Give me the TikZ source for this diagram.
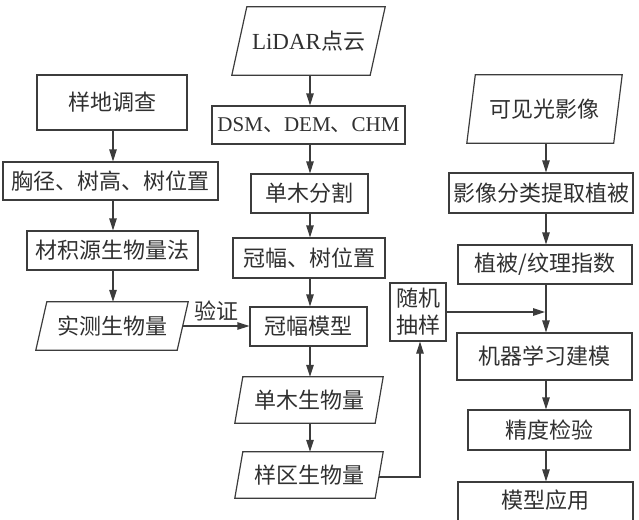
\documentclass[tikz,border=0pt]{standalone}
\usepackage{fontspec}
\setmainfont{Liberation Serif}
\newfontfamily\cjk{Noto Sans CJK SC}
\newfontfamily\lat{Liberation Serif}
\usetikzlibrary{arrows.meta,calc}
\definecolor{lc}{HTML}{3C3C3C}
\definecolor{tc}{HTML}{303030}
\tikzset{
  base/.style={inner sep=0pt, text=tc, font=\fontsize{22}{27}\selectfont\cjk, align=center},
  box/.style={base, draw=lc, line width=1.2pt},
  pnode/.style={base},
  ln/.style={draw=lc, line width=1.2pt, line join=miter},
  arr/.style={ln, -{Triangle[length=12pt,width=7.5pt]}},
}
\newcommand{\pbox}[2]{%
  \draw[ln] ([xshift=#2/2]#1.north west) -- ([xshift=#2/2]#1.north east)
    -- ([xshift=-#2/2]#1.south east) -- ([xshift=-#2/2]#1.south west) -- cycle;}
\begin{document}
\begin{tikzpicture}[x=1pt,y=-1pt]
\useasboundingbox (0,0) rectangle (639,519);
\clip (0,0) rectangle (639,519);
% column coordinates
\coordinate (cl) at (113,0);
\coordinate (cm) at (310,0);
\coordinate (cr) at (546,0);
% left column
\node[box, minimum width=150pt, minimum height=55pt] (n1) at (112,102.5) {样地调查};
\node[box, minimum width=215pt, minimum height=38pt] (n2) at (110.5,181) {胸径、树高、树位置};
\node[box, minimum width=171pt, minimum height=39pt] (n3) at (112.5,250.5) {材积源生物量法};
\node[pnode, minimum width=141pt, minimum height=48pt] (n4) at (112,326) {实测生物量};
\pbox{n4}{11}
% middle column
\node[pnode, minimum width=138pt, minimum height=68pt] (m1) at (308.5,41) {{\lat\fontsize{23}{27}\selectfont LiDAR}点云};
\pbox{m1}{15}
\node[box, minimum width=193pt, minimum height=38pt, font=\fontsize{21}{27}\selectfont\cjk] (m2) at (308.5,125) {{\lat DSM}、{\lat DEM}、{\lat CHM}};
\node[box, minimum width=117pt, minimum height=39pt] (m3) at (309.5,193.5) {单木分割};
\node[box, minimum width=152pt, minimum height=40pt] (m4) at (309,258) {冠幅、树位置};
\node[box, minimum width=117pt, minimum height=39pt] (m5) at (308.5,326.5) {冠幅模型};
\node[pnode, minimum width=140pt, minimum height=46pt] (m6) at (309,400) {单木生物量};
\pbox{m6}{8}
\node[pnode, minimum width=140pt, minimum height=46pt] (m7) at (309,475) {样区生物量};
\pbox{m7}{8}
\node[box, minimum width=56pt, minimum height=58pt] (r0) at (418,312) {随机\\抽样};
% right column
\node[pnode, minimum width=146.5pt, minimum height=68pt] (r1) at (544.5,109) {可见光影像};
\pbox{r1}{8.5}
\node[box, minimum width=184pt, minimum height=40pt] (r2) at (541,193) {影像分类提取植被};
\node[box, minimum width=174pt, minimum height=39pt] (r3) at (545,264.5) {植被/纹理指数};
\node[box, minimum width=175pt, minimum height=47pt] (r4) at (544.5,356.5) {机器学习建模};
\node[box, minimum width=162pt, minimum height=40pt] (r5) at (549,430) {精度检验};
\node[box, minimum width=175pt, minimum height=60pt] (r6) at (545.5,512) {};
\node[base] (r6t) at (545.5,500) {模型应用};
% connectors left
\draw[arr] (n1.south -| cl) -- (n2.north -| cl);
\draw[arr] (n2.south -| cl) -- (n3.north -| cl);
\draw[arr] (n3.south -| cl) -- (n4.north -| cl);
\draw[arr] (n4.east) -- node[base, above=4pt] (yz) {验证} (n4.east -| m5.west);
% connectors middle
\draw[arr] (m1.south -| cm) -- (m2.north -| cm);
\draw[arr] (m2.south -| cm) -- (m3.north -| cm);
\draw[arr] (m3.south -| cm) -- (m4.north -| cm);
\draw[arr] (m4.south -| cm) -- (m5.north -| cm);
\draw[arr] (m5.south -| cm) -- (m6.north -| cm);
\draw[arr] (m6.south -| cm) -- (m7.north -| cm);
\coordinate (up) at ($(r0.south)+(2,0)$);
\draw[arr] ($(m7.east)+(0,2)$) -| (up);
% connectors right
\draw[arr] (r1.south -| cr) -- (r2.north -| cr);
\draw[arr] (r2.south -| cr) -- (r3.north -| cr);
\draw[arr] (r3.south -| cr) -- (r4.north -| cr);
\draw[arr] (r0.east) -- ([xshift=-1pt]r0.east -| cr);
\draw[arr] (r4.south -| cr) -- (r5.north -| cr);
\draw[arr] (r5.south -| cr) -- (r6.north -| cr);
\end{tikzpicture}
\end{document}
